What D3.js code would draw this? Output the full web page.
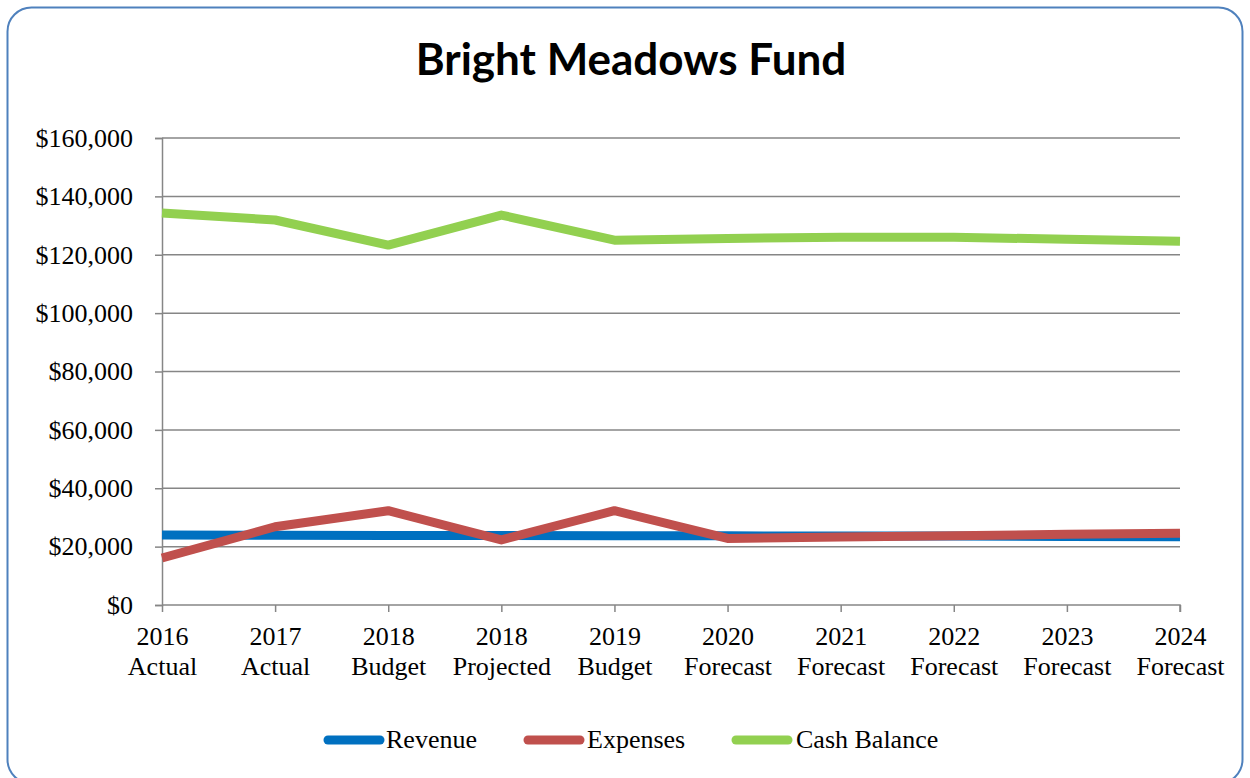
<!DOCTYPE html>
<html>
<head>
<meta charset="utf-8">
<script src="https://cdn.jsdelivr.net/npm/d3@7"></script>
<style>
  html, body { margin: 0; padding: 0; background: #fff; }
  svg { display: block; }
</style>
</head>
<body>
<svg id="chart" width="1250" height="778"></svg>
<script>
// Fund summary by period
const periods = [
  ["2016", "Actual"], ["2017", "Actual"], ["2018", "Budget"], ["2018", "Projected"],
  ["2019", "Budget"], ["2020", "Forecast"], ["2021", "Forecast"], ["2022", "Forecast"],
  ["2023", "Forecast"], ["2024", "Forecast"]
];
const revenue     = [24000, 23900, 23800, 23800, 23700, 23700, 23600, 23600, 23500, 23400];
const expenses    = [16100, 26800, 32300, 22300, 32300, 22800, 23300, 23700, 24200, 24600];
const cashBalance = [134300, 131900, 123300, 133600, 125000, 125600, 126000, 126000, 125300, 124600];
const yTicks = [0, 20000, 40000, 60000, 80000, 100000, 120000, 140000, 160000];

const seriesList = [
  { name: "Revenue",      values: revenue,     color: "#0070c0" },
  { name: "Expenses",     values: expenses,    color: "#c0504d" },
  { name: "Cash Balance", values: cashBalance, color: "#92d050" }
];

const svg = d3.select("#chart");
const W = 1250, H = 778;
const plot = { left: 162, right: 1180, top: 138, bottom: 605 };

// Outer chart frame
svg.append("rect")
  .attr("x", 7.5).attr("y", 7.5)
  .attr("width", 1235).attr("height", 776)
  .attr("rx", 24).attr("ry", 24)
  .attr("fill", "#fff")
  .attr("stroke", "#4f81bd").attr("stroke-width", 2);

// Title
svg.append("text")
  .attr("x", 631).attr("y", 75)
  .attr("text-anchor", "middle")
  .style("font-family", "Lato, 'Open Sans', sans-serif")
  .style("font-weight", 700)
  .style("font-size", "44px")
  .attr("fill", "#000")
  .text("Bright Meadows Fund");

const idx = d3.range(periods.length);
const x = d3.scalePoint().domain(idx).range([plot.left, plot.right]);
const y = d3.scaleLinear().domain([0, 160000]).range([plot.bottom, plot.top]);

const gridColor = "#868686";
const fmt = v => "$" + d3.format(",")(v);

// Horizontal gridlines
svg.append("g")
  .selectAll("line")
  .data(yTicks.filter(t => t > 0))
  .join("line")
  .attr("x1", plot.left).attr("x2", plot.right)
  .attr("y1", d => y(d)).attr("y2", d => y(d))
  .attr("stroke", gridColor).attr("stroke-width", 1.5);

// Y axis
const yAxis = svg.append("g")
  .attr("transform", `translate(${plot.left},0)`)
  .call(d3.axisLeft(y).tickValues(yTicks).tickFormat(fmt).tickSize(7).tickPadding(22));
yAxis.select(".domain").attr("stroke", gridColor).attr("stroke-width", 1.5);
yAxis.selectAll(".tick line").attr("stroke", gridColor).attr("stroke-width", 1.5);
yAxis.selectAll(".tick text")
  .style("font-family", "'Liberation Serif', 'Times New Roman', serif")
  .style("font-size", "26px")
  .attr("fill", "#000");

// X axis
const xAxis = svg.append("g")
  .attr("transform", `translate(0,${plot.bottom})`)
  .call(d3.axisBottom(x).tickSize(7).tickFormat(""));
xAxis.select(".domain").attr("stroke", gridColor).attr("stroke-width", 1.5)
  .attr("d", `M${plot.left},0H${plot.right}V7`);
xAxis.selectAll(".tick line").attr("stroke", gridColor).attr("stroke-width", 1.5);
xAxis.selectAll(".tick").each(function(d) {
  const t = d3.select(this).append("text")
    .attr("text-anchor", "middle")
    .style("font-family", "'Liberation Serif', 'Times New Roman', serif")
    .style("font-size", "26px")
    .attr("fill", "#000");
  t.append("tspan").attr("x", 0).attr("y", 40).text(periods[d][0]);
  t.append("tspan").attr("x", 0).attr("y", 70).text(periods[d][1]);
});

// Series lines
const line = d3.line().x((d, i) => x(i)).y(d => y(d));
svg.append("g")
  .selectAll("path")
  .data(seriesList)
  .join("path")
  .attr("d", s => line(s.values))
  .attr("fill", "none")
  .attr("stroke", s => s.color)
  .attr("stroke-width", 9)
  .attr("stroke-linejoin", "round");

// Legend
const legendItems = [
  { x: 328, textX: 386 },
  { x: 528, textX: 587 },
  { x: 736, textX: 796 }
];
const legend = svg.append("g");
seriesList.forEach((s, i) => {
  const it = legendItems[i];
  legend.append("line")
    .attr("x1", it.x).attr("x2", it.x + 52)
    .attr("y1", 740).attr("y2", 740)
    .attr("stroke", s.color).attr("stroke-width", 9)
    .attr("stroke-linecap", "round");
  legend.append("text")
    .attr("x", it.textX).attr("y", 748)
    .style("font-family", "'Liberation Serif', 'Times New Roman', serif")
    .style("font-size", "26px")
    .attr("fill", "#000")
    .text(s.name);
});
</script>
</body>
</html>
